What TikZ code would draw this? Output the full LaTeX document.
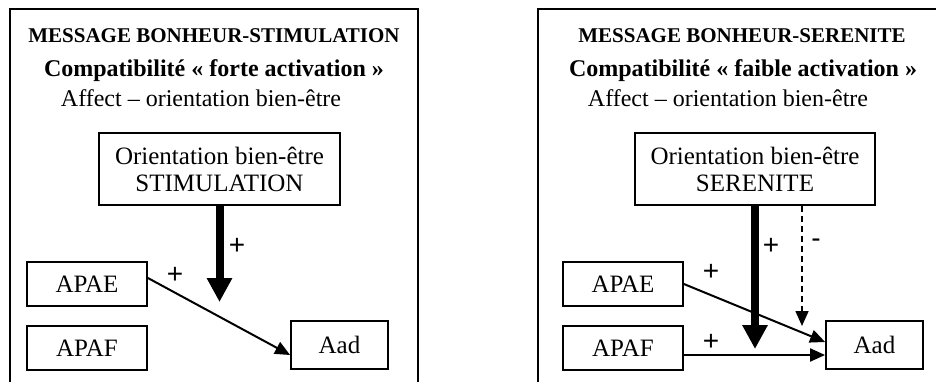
\documentclass[tikz,border=0pt]{standalone}
\usepackage{fontspec}
\setmainfont{Liberation Serif}
\newfontfamily\plusfont{Liberation Sans}
\usetikzlibrary{arrows.meta}
\tikzset{
  frame/.style={line width=1.5pt},
  boxnode/.style={draw, line width=1.8pt, inner sep=0pt, align=center, font=\fontsize{25}{27}\selectfont},
  orientbox/.style={boxnode, minimum width=241pt, minimum height=72pt},
  smallbox/.style={boxnode, minimum width=120pt, minimum height=44pt},
  aadbox/.style={boxnode, minimum width=97pt, minimum height=48pt},
  titletext/.style={inner sep=0pt, font=\fontsize{21}{23}\selectfont\bfseries},
  comptext/.style={inner sep=0pt, font=\fontsize{24}{26}\selectfont\bfseries},
  afftext/.style={inner sep=0pt, font=\fontsize{24}{26}\selectfont},
  signlabel/.style={inner sep=0pt, font=\fontsize{28}{30}\selectfont\plusfont},
  bigarrow/.style={line width=8pt, -{Triangle[length=24pt,width=24pt]}},
  thinarrow/.style={line width=2pt, -{Triangle[length=15pt,width=13pt]}},
  dasharrow/.style={line width=1.7pt, dash pattern=on 6pt off 4pt, -{Triangle[length=15pt,width=13pt]}}
}
\begin{document}
\begin{tikzpicture}[x=1pt,y=-1pt]
\useasboundingbox (0,0) rectangle (936,381);
% outer frames
\draw[frame] (10,385) -- (10,9) -- (418,9) -- (418,385);
\draw[frame] (538,385) -- (538,9) -- (940,9);
% left panel
\node[titletext] (titleL) at (214,36) {MESSAGE BONHEUR-STIMULATION};
\node[comptext] (compL) at (214,71) {Compatibilité « forte activation »};
\node[afftext] (affL) at (201,98) {Affect – orientation bien-être};
\node[orientbox] (orientL) at (219.5,169) {Orientation bien-être\\STIMULATION};
\node[smallbox] (apaeL) at (87,284) {APAE};
\node[smallbox] (apafL) at (87,348) {APAF};
\node[aadbox] (aadL) at (339.5,345) {Aad};
\coordinate (tipL) at (219.5,302);
\draw[bigarrow] (orientL.south) -- (tipL);
\draw[thinarrow] ([yshift=6pt]apaeL.east) -- ([yshift=-10pt]aadL.west);
\node[signlabel] (pL1) at (237,246) {+};
\node[signlabel] (pL2) at (175,275) {+};
% right panel
\node[titletext] (titleR) at (742,36) {MESSAGE BONHEUR-SERENITE};
\node[comptext] (compR) at (743,71) {Compatibilité « faible activation »};
\node[afftext] (affR) at (728,98) {Affect – orientation bien-être};
\node[orientbox, minimum width=240pt] (orientR) at (755,169) {Orientation bien-être\\SERENITE};
\node[smallbox] (apaeR) at (623,284) {APAE};
\node[smallbox] (apafR) at (623,348) {APAF};
\node[aadbox] (aadR) at (874.5,345) {Aad};
\coordinate (tipR) at (755,349);
\coordinate (dashtop) at ([xshift=47pt]orientR.south);
\coordinate (dashtip) at (802,326);
\draw[bigarrow] (orientR.south) -- (tipR);
\draw[dasharrow] (dashtop) -- (dashtip);
\draw[thinarrow] (apaeR.east) -- ([yshift=3pt]aadR.west);
\draw[thinarrow] ([yshift=-7pt]apafR.east) -- ([yshift=-10pt]aadR.west);
\node[signlabel] (pR1) at (771,246) {+};
\node[signlabel] (mR1) at (816,243) {-};
\node[signlabel] (pR2) at (711,272) {+};
\node[signlabel] (pR3) at (711,342) {+};
\end{tikzpicture}
\end{document}
